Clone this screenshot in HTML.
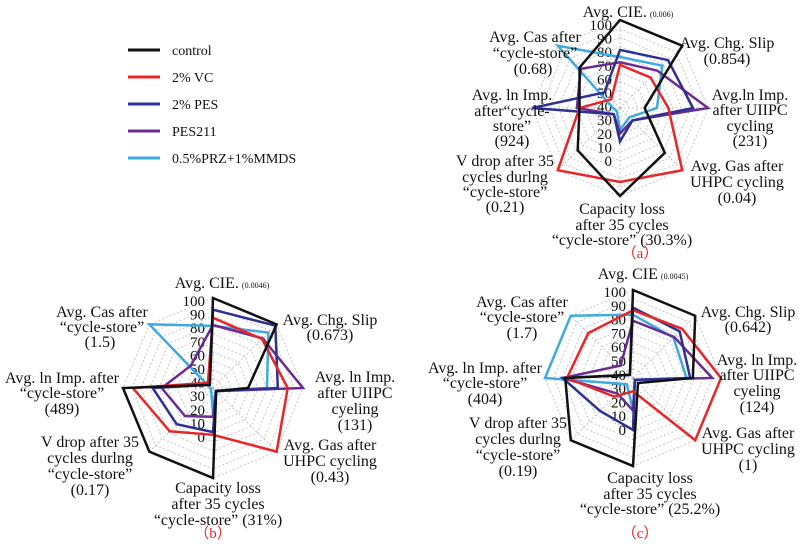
<!DOCTYPE html>
<html><head><meta charset="utf-8">
<style>
html,body{margin:0;padding:0;background:#fff;}
svg{display:block;font-family:"Liberation Serif",serif;}
</style></head>
<body>
<svg id="s" width="800" height="549" viewBox="0 0 800 549" xmlns="http://www.w3.org/2000/svg">
<g stroke-width="3">
<line x1="128" y1="50" x2="160" y2="50" stroke="#111"/>
<line x1="128" y1="77" x2="160" y2="77" stroke="#e8262a"/>
<line x1="128" y1="104" x2="160" y2="104" stroke="#2e3192"/>
<line x1="128" y1="131" x2="160" y2="131" stroke="#6a2c91"/>
<line x1="128" y1="158" x2="160" y2="158" stroke="#3fa9e0"/>
</g>
<g font-size="14" fill="#111">
<text x="172" y="55">control</text>
<text x="172" y="82">2% VC</text>
<text x="172" y="109">2% PES</text>
<text x="172" y="136">PES211</text>
<text x="172" y="163">0.5%PRZ+1%MMDS</text>
</g>
<g id="charts"></g>
<g font-size="16" fill="#111" text-anchor="middle">
<text x="628" y="17">Avg. CIE.<tspan font-size="8" dx="3">(0.006)</tspan></text>
<text x="535" y="42">Avg. Cas after</text><text x="535" y="58">“cycle-store”</text><text x="533" y="74">(0.68)</text>
<text x="512" y="100">Avg. ln Imp.</text><text x="512" y="116">after“cycle-</text><text x="512" y="131">store”</text><text x="512" y="146">(924)</text>
<text x="505" y="166">V drop after 35</text><text x="505" y="182">cycles durlng</text><text x="505" y="197">“cycle-store”</text><text x="505" y="212">(0.21)</text>
<text x="622" y="214">Capacity loss</text><text x="622" y="230">after 35 cycles</text><text x="622" y="245">“cycle-store” (30.3%)</text>
<text x="737" y="171">Avg. Gas after</text><text x="737" y="187">UHPC cycling</text><text x="737" y="203">(0.04)</text>
<text x="750" y="100">Avg.ln Imp.</text><text x="750" y="115">after UIIPC</text><text x="750" y="131">cycling</text><text x="750" y="146">(231)</text>
<text x="727" y="48">Avg. Chg. Slip</text><text x="727" y="64">(0.854)</text>
<text x="640" y="258" fill="#e8262a" font-size="15">（a）</text>
<text x="222" y="288">Avg. CIE.<tspan font-size="8" dx="3">(0.0046)</tspan></text>
<text x="330" y="325">Avg. Chg. Slip</text><text x="330" y="340">(0.673)</text>
<text x="355" y="382">Avg. ln Imp.</text><text x="355" y="398">after UIIPC</text><text x="355" y="414">cyeling</text><text x="355" y="430">(131)</text>
<text x="330" y="450">Avg. Gas after</text><text x="330" y="466">UHPC cycling</text><text x="330" y="482">(0.43)</text>
<text x="218" y="493">Capacity loss</text><text x="218" y="509">after 35 cycles</text><text x="218" y="525">“cycle-store” (31%)</text>
<text x="90" y="447">V drop after 35</text><text x="90" y="463">cycles durlng</text><text x="90" y="479">“cycle-store”</text><text x="90" y="495">(0.17)</text>
<text x="62" y="383">Avg. ln Imp. after</text><text x="62" y="398">“cycle-store”</text><text x="62" y="414">(489)</text>
<text x="102" y="317">Avg. Cas after</text><text x="102" y="332">“cycle-store”</text><text x="100" y="347">(1.5)</text>
<text x="213" y="538" fill="#e8262a" font-size="15">（b）</text>
<text x="643" y="279">Avg. CIE<tspan font-size="8" dx="3">(0.0045)</tspan></text>
<text x="748" y="317">Avg. Chg. Slip</text><text x="748" y="332">(0.642)</text>
<text x="757" y="365">Avg. ln Imp.</text><text x="757" y="380">after UIIPC</text><text x="757" y="396">cyeling</text><text x="757" y="412">(124)</text>
<text x="748" y="438">Avg. Gas after</text><text x="748" y="454">UHPC cycling</text><text x="748" y="470">(1)</text>
<text x="650" y="483">Capacity loss</text><text x="650" y="499">after 35 cycles</text><text x="650" y="514">“cycle-store” (25.2%)</text>
<text x="518" y="428">V drop after 35</text><text x="518" y="444">cycles durlng</text><text x="518" y="460">“cycle-store”</text><text x="518" y="476">(0.19)</text>
<text x="485" y="373">Avg. ln Imp. after</text><text x="485" y="388">“cycle-store”</text><text x="485" y="404">(404)</text>
<text x="522" y="307">Avg. Cas after</text><text x="522" y="322">“cycle-store”</text><text x="522" y="338">(1.7)</text>
<text x="640" y="538" fill="#e8262a" font-size="15">（c）</text>
</g>
</svg>
<script>
(function(){
var NS="http://www.w3.org/2000/svg";
var g=document.getElementById("charts");
var cols=["#111","#e8262a","#2e3192","#6a2c91","#3fa9e0"];
var charts=[
 {cx:620,cy:108,R:88,tx:612,t100:30,t0:166,data:[
  [100,100,28,72,100,68,46,65],
  [49,49,55,100,84,100,46,14],
  [66,77,83,20,38,10,100,25],
  [52,60,100,20,29,10,49,63],
  [58,68,42,15,25,5,8,100]]},
 {cx:213,cy:388,R:90,tx:205,t100:306,t0:442,data:[
  [100,100,39,5,100,100,100,5],
  [78,77,83,100,52,68,89,8],
  [87,98,72,5,49,57,67,5],
  [70,78,100,5,32,44,57,35],
  [69,87,60,4,28,3,3,100]]},
 {cx:633,cy:378,R:88,tx:626,t100:297,t0:435,data:[
  [100,100,68,8,100,100,77,5],
  [77,79,100,100,15,30,75,72],
  [80,75,65,3,59,53,80,5],
  [65,66,90,3,37,25,80,20],
  [72,65,61,3,36,10,100,100]]}
];
function el(n,a){var e=document.createElementNS(NS,n);for(var k in a)e.setAttribute(k,a[k]);return e;}
charts.forEach(function(c){
 function pt(i,v){var a=-Math.PI/2+i*Math.PI/4;var r=c.R*v/100;return [c.cx+r*Math.cos(a),c.cy+r*Math.sin(a)];}
 for(var k=1;k<=10;k++){
  var p=[];for(var i=0;i<8;i++)p.push(pt(i,k*10).join(","));
  g.appendChild(el("polygon",{points:p.join(" "),fill:"none",stroke:"#bbb","stroke-width":"0.8","stroke-dasharray":"2,2"}));
 }
 for(var i=0;i<8;i++){var q=pt(i,100);g.appendChild(el("line",{x1:c.cx,y1:c.cy,x2:q[0],y2:q[1],stroke:"#bbb","stroke-width":"0.8","stroke-dasharray":"2,2"}));}
 for(var k=0;k<=10;k++){
  var t=el("text",{x:c.tx,y:c.t100+(c.t0-c.t100)*(10-k)/10,"font-size":"15","text-anchor":"end",fill:"#111"});
  t.textContent=String(k*10);g.appendChild(t);
 }
 for(var s=4;s>=0;s--){
  var p=[];for(var i=0;i<8;i++)p.push(pt(i,c.data[s][i]).join(","));
  g.appendChild(el("polygon",{points:p.join(" "),fill:"none",stroke:cols[s],"stroke-width":"2.5","stroke-linejoin":"miter"}));
 }
});
})();
</script>
</body></html>
